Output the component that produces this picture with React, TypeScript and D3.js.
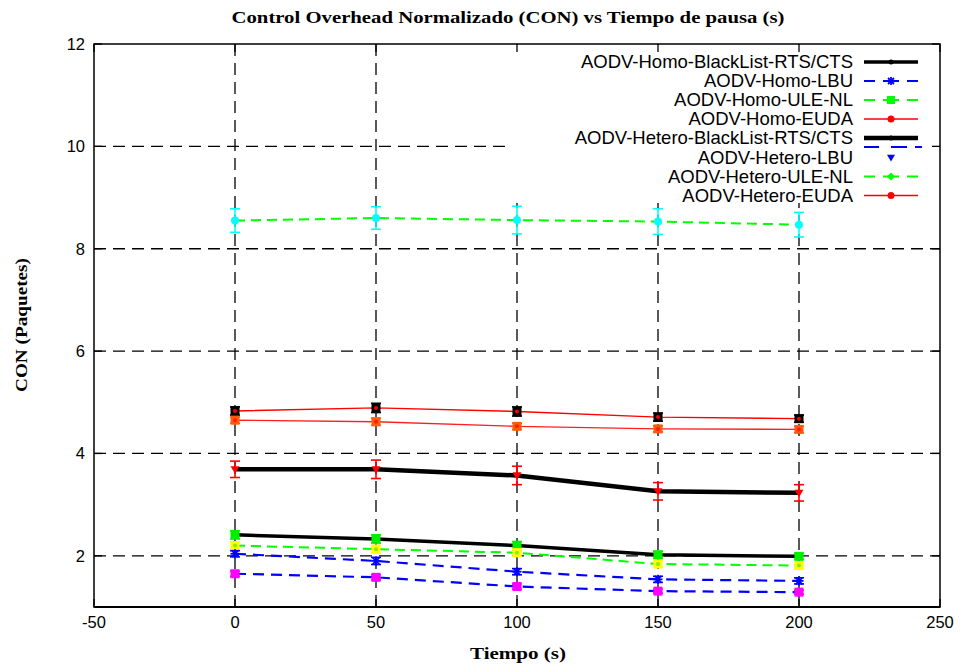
import React from "react"
import * as d3 from "d3"

// pause time (s)
const pauseTimes = [0, 50, 100, 150, 200]
const xTicks = [-50, 0, 50, 100, 150, 200, 250]
const yTicks = [2, 4, 6, 8, 10, 12]

// CON values
const heteroUleNl = [8.55, 8.6, 8.56, 8.53, 8.47]
const heteroUleNlErr = [0.23, 0.22, 0.27, 0.25, 0.24]
const homoEuda = [4.83, 4.89, 4.82, 4.71, 4.68]
const homoEudaErr = [0.08, 0.09, 0.09, 0.08, 0.07]
const heteroEuda = [4.65, 4.62, 4.53, 4.48, 4.47]
const heteroEudaErr = [0.06, 0.07, 0.06, 0.06, 0.06]
const heteroBlackList = [3.69, 3.69, 3.57, 3.26, 3.23]
const heteroBlackListErr = [0.16, 0.18, 0.18, 0.17, 0.16]
const homoBlackList = [2.41, 2.33, 2.2, 2.02, 1.99]
const homoBlackListErr = [0.08, 0.08, 0.08, 0.07, 0.06]
const homoUleNl = [2.2, 2.13, 2.06, 1.84, 1.81]
const homoUleNlErr = [0.07, 0.07, 0.07, 0.06, 0.06]
const homoLbu = [2.04, 1.9, 1.69, 1.54, 1.51]
const homoLbuErr = [0.06, 0.07, 0.06, 0.06, 0.06]
const heteroLbu = [1.65, 1.58, 1.4, 1.31, 1.29]
const heteroLbuErr = [0.05, 0.05, 0.05, 0.04, 0.04]

const legendLabels = [
  "AODV-Homo-BlackList-RTS/CTS",
  "AODV-Homo-LBU",
  "AODV-Homo-ULE-NL",
  "AODV-Homo-EUDA",
  "AODV-Hetero-BlackList-RTS/CTS",
  "AODV-Hetero-LBU",
  "AODV-Hetero-ULE-NL",
  "AODV-Hetero-EUDA",
]

type Shape = "circle" | "square" | "tri" | "star" | "diamond" | "dot" | "none"

const series = [
  { v: heteroUleNl, e: heteroUleNlErr, line: "#00ff00", w: 2, dash: "10,6", bar: "#00ffff", shape: "circle" as Shape, dot: "" },
  { v: homoEuda, e: homoEudaErr, line: "#ff0000", w: 1.4, dash: "", bar: "#000000", shape: "square" as Shape, dot: "#ff0000" },
  { v: heteroEuda, e: heteroEudaErr, line: "#ff2020", w: 1.4, dash: "", bar: "#ff5a10", shape: "square" as Shape, dot: "#ff2000" },
  { v: heteroBlackList, e: heteroBlackListErr, line: "#000000", w: 4.5, dash: "", bar: "#ff0000", shape: "tri" as Shape, dot: "" },
  { v: homoBlackList, e: homoBlackListErr, line: "#000000", w: 3.5, dash: "", bar: "#00ee00", shape: "square" as Shape, dot: "" },
  { v: homoUleNl, e: homoUleNlErr, line: "#00ff00", w: 2, dash: "10,6", bar: "#ffff00", shape: "square" as Shape, dot: "#88ee00" },
  { v: homoLbu, e: homoLbuErr, line: "#0000ff", w: 2.2, dash: "11,7", bar: "#0000ff", shape: "star" as Shape, dot: "" },
  { v: heteroLbu, e: heteroLbuErr, line: "#0000ff", w: 2.2, dash: "11,7", bar: "#ff00ff", shape: "square" as Shape, dot: "" },
]

const legendDash = "11,8,16,8,11"
const legendStyles = [
  { line: "#000000", w: 3.5, dash: "", shape: "dot" as Shape, color: "#000000" },
  { line: "#0000ff", w: 2, dash: legendDash, shape: "star" as Shape, color: "#0000ff" },
  { line: "#00ff00", w: 2, dash: legendDash, shape: "square" as Shape, color: "#00ff00" },
  { line: "#ff0000", w: 1.4, dash: "", shape: "circle" as Shape, color: "#ff0000" },
  { line: "#000000", w: 4.5, dash: "", shape: "dot" as Shape, color: "#000000" },
  { line: "", w: 0, dash: "", shape: "tri" as Shape, color: "#0000ff" },
  { line: "#00ff00", w: 2, dash: legendDash, shape: "diamond" as Shape, color: "#00ff00" },
  { line: "#ff0000", w: 1.4, dash: "", shape: "circle" as Shape, color: "#ff0000" },
]

const Marker = ({ x, y, shape, color, size = 4.5 }: { x: number; y: number; shape: Shape; color: string; size?: number }) => {
  if (shape === "circle") return <circle cx={x} cy={y} r={size - 0.5} fill={color} />
  if (shape === "dot") return <circle cx={x} cy={y} r={2.5} fill={color} />
  if (shape === "square") return <rect x={x - size} y={y - size} width={size * 2} height={size * 2} fill={color} />
  if (shape === "diamond") return <path d={`M${x},${y - size}L${x + size},${y}L${x},${y + size}L${x - size},${y}Z`} fill={color} />
  if (shape === "tri") return <path d={`M${x - size},${y - size * 0.7}L${x + size},${y - size * 0.7}L${x},${y + size}Z`} fill={color} />
  if (shape === "star")
    return (
      <g stroke={color} strokeWidth={1.8}>
        <line x1={x - size} x2={x + size} y1={y} y2={y} />
        <line x1={x} x2={x} y1={y - size} y2={y + size} />
        <line x1={x - size * 0.75} x2={x + size * 0.75} y1={y - size * 0.75} y2={y + size * 0.75} />
        <line x1={x - size * 0.75} x2={x + size * 0.75} y1={y + size * 0.75} y2={y - size * 0.75} />
      </g>
    )
  return null
}

export default function App() {
  const W = 964
  const H = 665
  const left = 94, right = 940, top = 44, bottom = 607

  const x = d3.scaleLinear().domain([-50, 250]).range([left, right])
  const y = d3.scaleLinear().domain([1, 12]).range([bottom, top])

  const line = d3
    .line<number>()
    .x((_, i) => x(pauseTimes[i]))
    .y((d) => y(d))

  const sans = "'Liberation Sans', Arial, sans-serif"
  const serif = "'Liberation Serif', 'Times New Roman', serif"

  const legX = 853
  const legY0 = 62
  const legStep = 19

  return (
    <svg width={W} height={H} style={{ position: "absolute", left: 0, top: 0, background: "#fff" }}>
      <rect width={W} height={H} fill="#fff" />

      {/* grid */}
      <g stroke="#000" strokeWidth={1.3} strokeDasharray="12,7">
        {yTicks.filter((t) => t < 12).map((t) => (
          <line key={"gy" + t} x1={left} x2={right} y1={y(t)} y2={y(t)} />
        ))}
        {pauseTimes.map((t) => (
          <line key={"gx" + t} x1={x(t)} x2={x(t)} y1={top} y2={bottom} />
        ))}
      </g>

      {/* opaque key */}
      <rect x={512} y={45} width={427} height={158} fill="#fff" />

      {/* ticks */}
      <g stroke="#000" strokeWidth={1.3}>
        {xTicks.map((t) => (
          <g key={"tx" + t}>
            <line x1={x(t)} x2={x(t)} y1={bottom} y2={bottom - 8} />
            <line x1={x(t)} x2={x(t)} y1={top} y2={top + 8} />
          </g>
        ))}
        {yTicks.map((t) => (
          <g key={"ty" + t}>
            <line x1={left} x2={left + 8} y1={y(t)} y2={y(t)} />
            <line x1={right} x2={right - 8} y1={y(t)} y2={y(t)} />
          </g>
        ))}
      </g>

      {/* lines */}
      {series.map((s, i) => (
        <path key={"l" + i} d={line(s.v) || ""} fill="none" stroke={s.line} strokeWidth={s.w} strokeDasharray={s.dash || undefined} />
      ))}

      {/* error bars and points */}
      {series.map((s, i) => (
        <g key={"e" + i}>
          {s.v.map((v, j) => {
            const cx = x(pauseTimes[j])
            const y1 = y(v + s.e[j])
            const y2 = y(v - s.e[j])
            return (
              <g key={j}>
                <g stroke={s.bar} strokeWidth={1.6}>
                  <line x1={cx} x2={cx} y1={y1} y2={y2} />
                  <line x1={cx - 5} x2={cx + 5} y1={y1} y2={y1} />
                  <line x1={cx - 5} x2={cx + 5} y1={y2} y2={y2} />
                </g>
                <Marker x={cx} y={y(v)} shape={s.shape} color={s.bar} />
                {s.dot && <circle cx={cx} cy={y(v)} r={2} fill={s.dot} />}
              </g>
            )
          })}
        </g>
      ))}

      {/* legend */}
      {legendLabels.map((lab, i) => {
        const ly = legY0 + i * legStep + (i >= 5 ? 0.5 : 0)
        const st = legendStyles[i]
        return (
          <g key={"lg" + i}>
            <text x={legX} y={ly} dy="0.35em" textAnchor="end" fontFamily={sans} fontSize={18.5} fill="#000">
              {lab}
            </text>
            {st.line && (
              <line x1={864} x2={918} y1={ly} y2={ly} stroke={st.line} strokeWidth={st.w} strokeDasharray={st.dash || undefined} />
            )}
            <Marker x={891} y={ly} shape={st.shape} color={st.color} size={4} />
          </g>
        )
      })}
      <line x1={864} x2={922} y1={147} y2={147} stroke="#0000ff" strokeWidth={2} strokeDasharray="15,12,16,8" />

      {/* frame */}
      <rect x={left} y={top} width={right - left} height={bottom - top} fill="none" stroke="#000" strokeWidth={1.5} />
      <line x1={left} x2={right} y1={bottom} y2={bottom} stroke="#000" strokeWidth={2.2} />

      {/* tick labels */}
      <g fontFamily={sans} fontSize={16.5} fill="#000">
        {xTicks.map((t) => (
          <text key={"xl" + t} x={x(t)} y={628} textAnchor="middle">
            {t}
          </text>
        ))}
        {yTicks.map((t) => (
          <text key={"yl" + t} x={85} y={y(t)} dy="0.36em" textAnchor="end">
            {t}
          </text>
        ))}
      </g>

      {/* titles */}
      <text x={508} y={23} textAnchor="middle" fontFamily={serif} fontWeight="bold" fontSize={17.5} textLength={553} lengthAdjust="spacingAndGlyphs">
        Control Overhead Normalizado (CON) vs Tiempo de pausa (s)
      </text>
      <text x={518} y={659} textAnchor="middle" fontFamily={serif} fontWeight="bold" fontSize={17.5} textLength={96} lengthAdjust="spacingAndGlyphs">
        Tiempo (s)
      </text>
      <text transform="translate(27,325) rotate(-90)" textAnchor="middle" fontFamily={serif} fontWeight="bold" fontSize={17.5} textLength={134} lengthAdjust="spacingAndGlyphs">
        CON (Paquetes)
      </text>
    </svg>
  )
}
